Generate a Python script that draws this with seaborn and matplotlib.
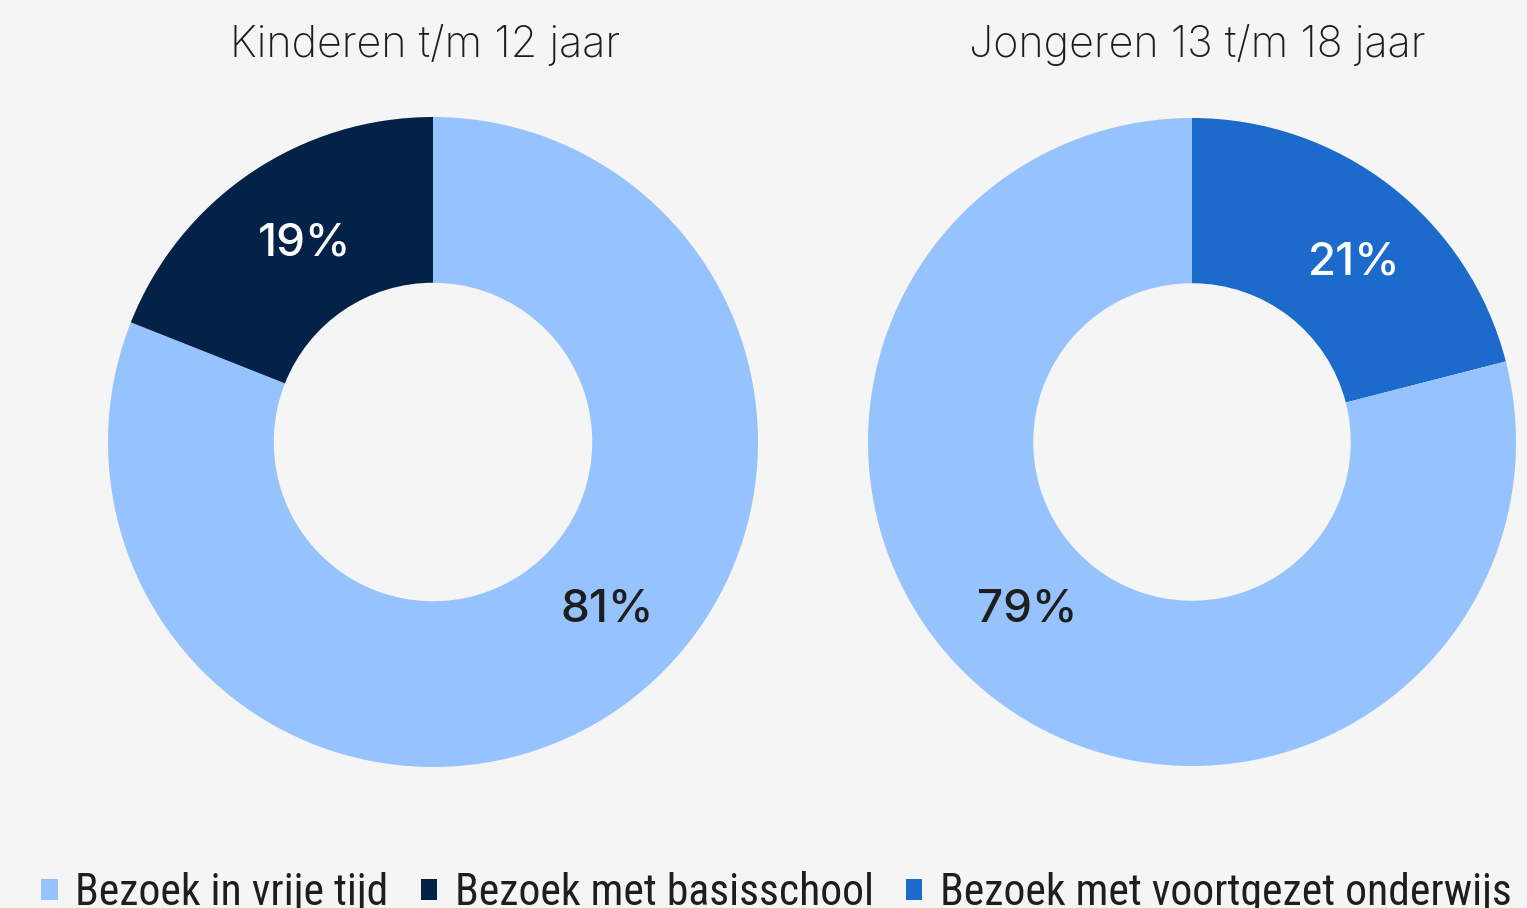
import numpy as np
import matplotlib
matplotlib.use("Agg")
import matplotlib.pyplot as plt
import seaborn as sns
from matplotlib.patches import Patch
from matplotlib import font_manager as fm

# data
titles = ["Kinderen t/m 12 jaar", "Jongeren 13 t/m 18 jaar"]
categories = ["Bezoek in vrije tijd", "Bezoek met basisschool", "Bezoek met voortgezet onderwijs"]
kinderen_labels = ["Bezoek in vrije tijd", "Bezoek met basisschool"]
kinderen_values = [81, 19]
jongeren_labels = ["Bezoek met voortgezet onderwijs", "Bezoek in vrije tijd"]
jongeren_values = [21, 79]

# style
colors = {
    "Bezoek in vrije tijd": "#96C3FD",
    "Bezoek met basisschool": "#042148",
    "Bezoek met voortgezet onderwijs": "#1B6ACC",
}
text_on = {
    "Bezoek in vrije tijd": "#1E1E1E",
    "Bezoek met basisschool": "#FFFFFF",
    "Bezoek met voortgezet onderwijs": "#FFFFFF",
}
bg = "#F5F5F5"

sns.set_theme(style="white", rc={"figure.facecolor": bg, "axes.facecolor": bg})
plt.rcParams["font.family"] = ["Inter", "DejaVu Sans"]

names = {f.name for f in fm.fontManager.ttflist}
legend_family = "Inter"
for cand in ["Liberation Sans Narrow", "DejaVu Sans Condensed", "Roboto Condensed"]:
    if cand in names:
        legend_family = cand
        break

W, H = 1527, 908
fig = plt.figure(figsize=(W / 100, H / 100), dpi=100)

# centre (px), outer radius (px), label positions in data units
donuts = [
    (kinderen_labels, kinderen_values, (433, 442), 325, [(0.535, -0.515), (-0.394, 0.612)]),
    (jongeren_labels, jongeren_values, (1192, 442), 324, [(0.5, 0.555), (-0.509, -0.516)]),
]

for i, (labels, values, (cx, cy), r, label_pos) in enumerate(donuts):
    ax = fig.add_axes([(cx - r) / W, (H - cy - r) / H, 2 * r / W, 2 * r / H])
    wedges, _ = ax.pie(values,
                       colors=[colors[l] for l in labels],
                       startangle=90,
                       counterclock=False,
                       radius=1,
                       wedgeprops=dict(width=0.51, linewidth=0))
    for v, l, (px, py) in zip(values, labels, label_pos):
        ax.text(px, py, f"{v}%", ha="center", va="center",
                fontsize=33, fontweight="medium", color=text_on[l])
    ax.set_xlim(-1, 1)
    ax.set_ylim(-1, 1)
    ax.set_aspect("equal")
    ax.axis("off")
    tx = [425, 1197][i]
    fig.text(tx / W, 1 - 45 / H, titles[i], ha="center", va="center",
             fontsize=31, fontweight="light", color="#1E1E1E")

handles = [Patch(facecolor=colors[c], edgecolor="none", label=c) for c in categories]
fig.legend(handles=handles, loc="center", bbox_to_anchor=(0.5085, 1 - 893 / H),
           ncol=3, frameon=False,
           prop={"family": legend_family, "size": 31.4},
           handlelength=0.37, handleheight=0.37, handletextpad=0.4,
           columnspacing=0.75, labelcolor="#1E1E1E")

fig.savefig("out.png", dpi=100, facecolor=bg)
